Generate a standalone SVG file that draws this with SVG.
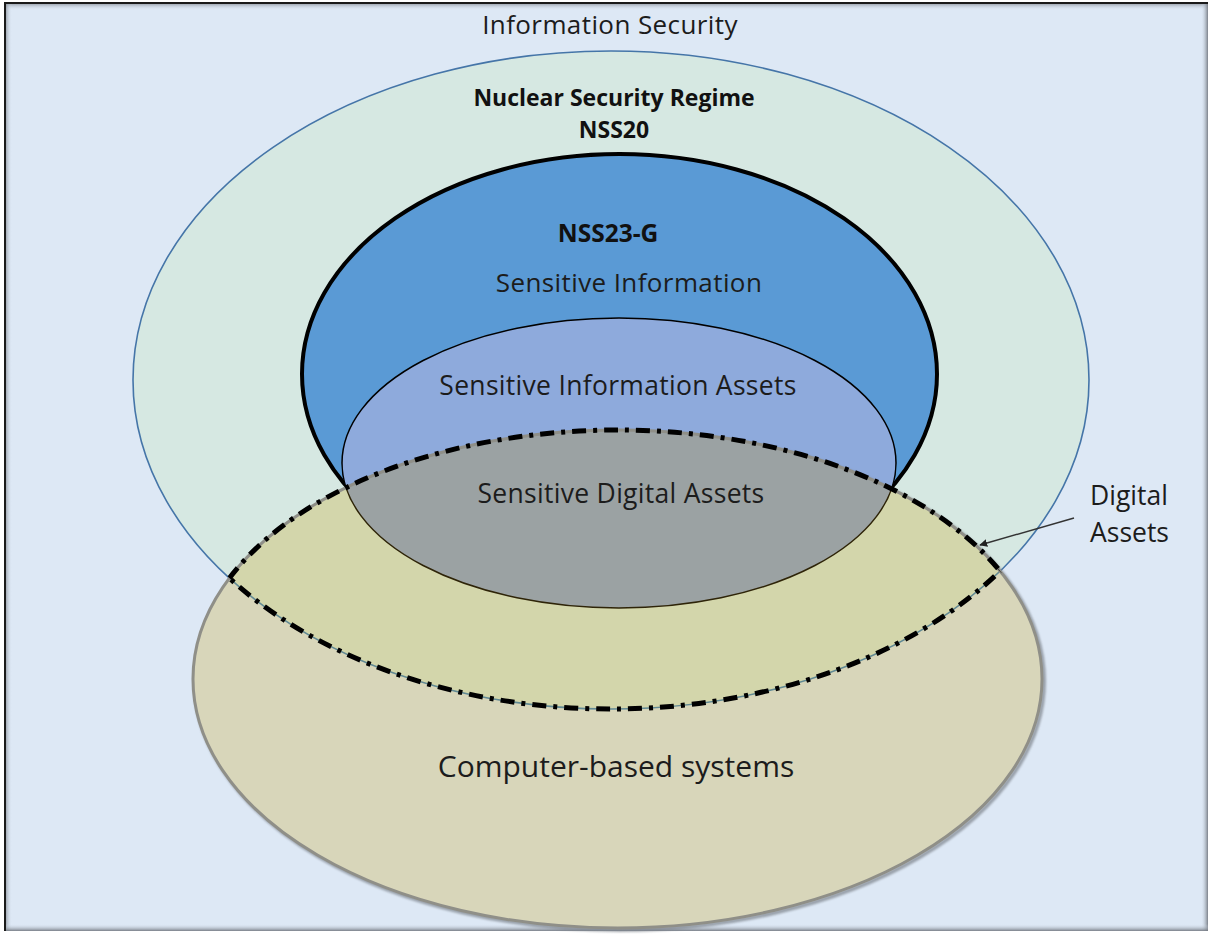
<svg xmlns="http://www.w3.org/2000/svg" width="1212" height="934" viewBox="0 0 1212 934">
  <style>
    .lbl { font-family: "Open Sans", "Noto Sans", sans-serif; fill: #1c1c1c; text-anchor: middle; }
    .bold { font-weight: 700; fill: #111; }
    .dash { fill: none; stroke: #000; stroke-width: 5; stroke-dasharray: 14 7 4 7; }
  </style>
  <defs>
    <linearGradient id="shTop" x1="0" y1="0" x2="0" y2="1">
      <stop offset="0" stop-color="#7a7f88" stop-opacity="0.8"/>
      <stop offset="1" stop-color="#dde8f5" stop-opacity="0"/>
    </linearGradient>
    <linearGradient id="shLeft" x1="0" y1="0" x2="1" y2="0">
      <stop offset="0" stop-color="#7a7f88" stop-opacity="0.8"/>
      <stop offset="1" stop-color="#dde8f5" stop-opacity="0"/>
    </linearGradient>
    <linearGradient id="shRight" x1="1" y1="0" x2="0" y2="0">
      <stop offset="0" stop-color="#6f747c" stop-opacity="0.9"/>
      <stop offset="1" stop-color="#dde8f5" stop-opacity="0"/>
    </linearGradient>
    <linearGradient id="shBottom" x1="0" y1="1" x2="0" y2="0">
      <stop offset="0" stop-color="#6f747c" stop-opacity="0.9"/>
      <stop offset="1" stop-color="#dde8f5" stop-opacity="0"/>
    </linearGradient>
    <clipPath id="clipOuter"><ellipse cx="611" cy="380" rx="478" ry="329"/></clipPath>
    <clipPath id="clipCbs"><ellipse cx="617.5" cy="679" rx="424.5" ry="249"/></clipPath>
    <filter id="soft" x="-5%" y="-5%" width="110%" height="110%">
      <feGaussianBlur stdDeviation="0.8"/>
    </filter>
    <marker id="arrow" viewBox="0 0 10 10" refX="9" refY="5" markerWidth="8" markerHeight="8" orient="auto" markerUnits="userSpaceOnUse">
      <path d="M0,0 L10,5 L0,10 z" fill="#222"/>
    </marker>
  </defs>

  <!-- frame -->
  <g id="frame">
    <rect x="0" y="0" width="1212" height="934" fill="#ffffff"/>
    <rect x="5" y="3" width="1203" height="928" fill="#dde8f5"/>
    <rect x="5" y="3" width="1203" height="7" fill="url(#shTop)"/>
    <rect x="5" y="3" width="7" height="928" fill="url(#shLeft)"/>
    <rect x="1201" y="3" width="7" height="928" fill="url(#shRight)"/>
    <rect x="5" y="924" width="1203" height="7" fill="url(#shBottom)"/>
    <path d="M5,931 L5,3 L1208,3" fill="none" stroke="#1a1a1a" stroke-width="2"/>
  </g>

  <!-- Nuclear Security Regime (NSS20) -->
  <g id="nss20">
    <ellipse cx="611" cy="380" rx="478" ry="329" fill="#d6e8e2" stroke="#4575a8" stroke-width="1.6"/>
  </g>

  <!-- NSS23-G : sensitive information -->
  <g id="nss23g">
    <ellipse cx="619.5" cy="374" rx="317.5" ry="220" fill="#5a9ad5" stroke="#000" stroke-width="4"/>
  </g>

  <!-- Sensitive information assets -->
  <g id="sia">
    <ellipse cx="619" cy="463" rx="277" ry="145" fill="#8eaadc" stroke="#000" stroke-width="1.5"/>
  </g>

  <!-- Computer-based systems with overlap tints -->
  <g id="cbs">
    <ellipse cx="619.5" cy="681" rx="424.5" ry="249" fill="none" stroke="#7c828a" stroke-width="4" filter="url(#soft)" opacity="0.7"/>
    <ellipse cx="617.5" cy="679" rx="424.5" ry="249" fill="#d8d6ba"/>
    <g clip-path="url(#clipCbs)">
      <ellipse cx="611" cy="380" rx="478" ry="329" fill="#d3d6ab"/>
      <ellipse cx="619" cy="463" rx="277" ry="145" fill="#9ba2a3"/>
      <ellipse cx="619" cy="463" rx="277" ry="145" fill="none" stroke="#2e2408" stroke-width="1.5"/>
      <ellipse cx="611" cy="380" rx="478" ry="329" fill="none" stroke="#628a94" stroke-width="1.6"/>
    </g>
    <ellipse cx="617.5" cy="679" rx="424.5" ry="249" fill="none" stroke="#8f8f88" stroke-width="3"/>
  </g>

  <!-- Digital assets: overlap of the regime and computer-based systems -->
  <g id="digital-assets">
    <g clip-path="url(#clipOuter)">
      <ellipse class="dash" cx="617.5" cy="679" rx="424.5" ry="249"/>
    </g>
    <g clip-path="url(#clipCbs)">
      <ellipse class="dash" cx="611" cy="380" rx="478" ry="329"/>
    </g>
  </g>

  <!-- connectors -->
  <g id="connectors">
    <line x1="1074" y1="518" x2="980" y2="545" stroke="#333" stroke-width="1.4" marker-end="url(#arrow)"/>
  </g>

  <!-- labels -->
  <g id="labels">
    <text class="lbl" x="610" y="34" font-size="26" letter-spacing="0.4">Information Security</text>
    <text class="lbl bold" x="614" y="106" font-size="23">Nuclear Security Regime</text>
    <text class="lbl bold" x="614" y="138" font-size="23">NSS20</text>
    <text class="lbl bold" x="608" y="242" font-size="24.5">NSS23-G</text>
    <text class="lbl" x="629" y="292" font-size="26" letter-spacing="0.4">Sensitive Information</text>
    <text class="lbl" x="618" y="395" font-size="26.5" letter-spacing="0.3">Sensitive Information Assets</text>
    <text class="lbl" x="621" y="503" font-size="26.5" letter-spacing="0.3">Sensitive Digital Assets</text>
    <text class="lbl" x="616" y="777" font-size="30">Computer-based systems</text>
    <text class="lbl" x="1090" y="505" font-size="26.5" style="text-anchor:start">Digital</text>
    <text class="lbl" x="1090" y="542" font-size="26.5" style="text-anchor:start">Assets</text>
  </g>
</svg>
